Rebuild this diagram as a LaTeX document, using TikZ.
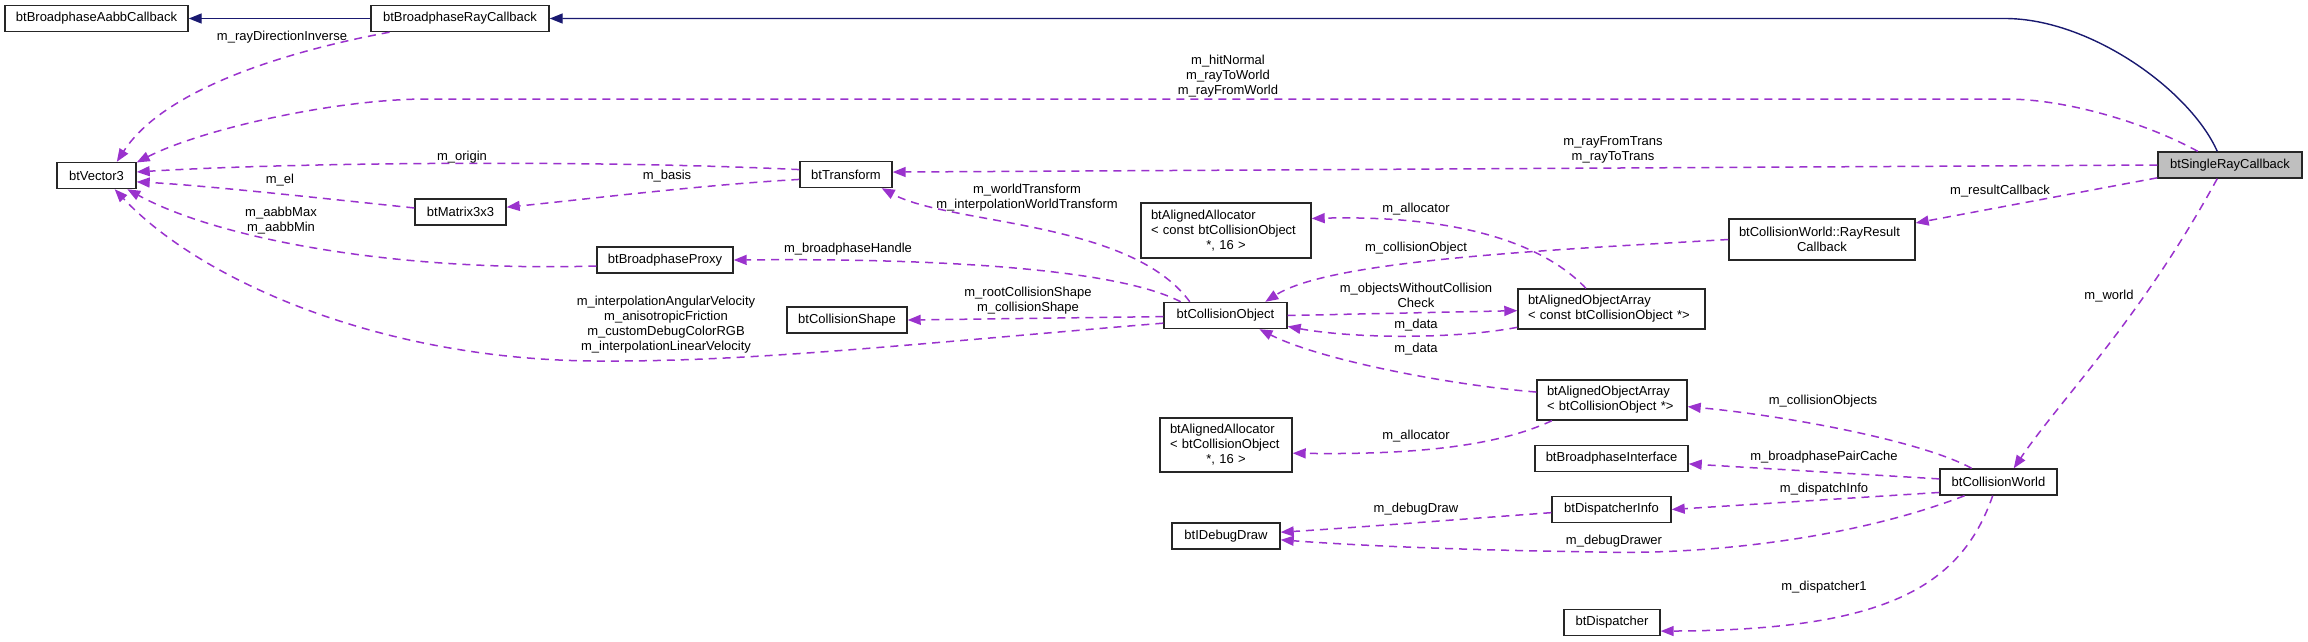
\documentclass[tikz,border=0pt]{standalone}
\usepackage{fontspec}
\setmainfont{Liberation Sans}
\usetikzlibrary{arrows.meta}
\definecolor{edgepurple}{HTML}{9A32CD}
\definecolor{edgenavy}{HTML}{191970}
\tikzset{
  cls/.style={draw=black!85, line width=1.4pt, fill=white, inner xsep=0pt, inner ysep=0pt,
    minimum height=26pt, font=\fontsize{13}{15}\selectfont},
  clsml/.style={cls, align=left, inner xsep=10pt},
  uses/.style={draw=edgepurple, line width=1.5pt, dash pattern=on 8pt off 6pt,
    -{Triangle[length=13pt,width=10pt,fill=edgepurple]}},
  inherits/.style={draw=edgenavy, line width=1.4pt, -{Triangle[length=13pt,width=10pt]}},
  lbl/.style={font=\fontsize{13}{15}\selectfont, align=center, inner sep=0pt}
}
\newcommand{\midline}[1]{\leavevmode\hfill #1\hfill\null}
\begin{document}
\begin{tikzpicture}[x=1pt, y=-1pt, >=latex]
                \useasboundingbox (0,0) rectangle (2308,641);

                % Classes
                \node[cls, minimum width=183pt] (aabbcb) at (96.5,18.5) {btBroadphaseAabbCallback};
                \node[cls, minimum width=178pt] (raycb) at (460,18.5) {btBroadphaseRayCallback};
                \node[cls, minimum width=79pt] (vec3) at (96.5,175.5) {btVector3};
                \node[cls, minimum width=92pt] (transform) at (846,174.5) {btTransform};
                \node[cls, minimum width=91pt] (mat33) at (460.5,212) {btMatrix3x3};
                \node[cls, minimum width=136pt] (proxy) at (665,260) {btBroadphaseProxy};
                \node[cls, minimum width=120pt] (shape) at (847,320) {btCollisionShape};
                \node[cls, minimum width=123pt] (colobj) at (1225.5,315.5) {btCollisionObject};
                \node[clsml, text width=150pt, minimum height=55pt] (allocc) at (1226,230.5)
                    {btAlignedAllocator\\< const btCollisionObject\\\midline{*, 16 >}};
                \node[clsml, text width=167pt, minimum height=40pt] (arrc) at (1611.5,309)
                    {btAlignedObjectArray\\< const btCollisionObject *>};
                \node[clsml, text width=166pt, minimum height=41pt] (rrcb) at (1822,239.5)
                    {btCollisionWorld::RayResult\\\midline{Callback}};
                \node[cls, fill=black!25, minimum width=144pt] (single) at (2230,165) {btSingleRayCallback};
                \node[clsml, text width=130pt, minimum height=40pt] (arr) at (1612,400)
                    {btAlignedObjectArray\\< btCollisionObject *>};
                \node[clsml, text width=112pt, minimum height=54pt] (alloc) at (1226,445)
                    {btAlignedAllocator\\< btCollisionObject\\\midline{*, 16 >}};
                \node[cls, minimum width=153pt] (bpi) at (1611.5,458.5) {btBroadphaseInterface};
                \node[cls, minimum width=119pt] (dinfo) at (1611.5,509.5) {btDispatcherInfo};
                \node[cls, minimum width=108pt] (ddraw) at (1226,536) {btIDebugDraw};
                \node[cls, minimum width=117pt] (world) at (1998.5,482) {btCollisionWorld};
                \node[cls, minimum width=96pt] (disp) at (1612,622.5) {btDispatcher};

                % Heranca
                \draw[inherits] (raycb) -- (aabbcb);
                \draw[inherits] (single.133) .. controls (2190,90) and (2090,18.5) .. (2005,18.5) -- (raycb.east);

                % Membros -> btVector3
                \draw[uses] (raycb.191) .. controls (320,45) and (170,80) .. (vec3.34);
                \draw[uses] (single.157) .. controls (2150,125) and (2070,99) .. (2005,99) -- (423,99)
                    .. controls (330,100) and (200,130) .. (vec3.18);
                \draw[uses] (transform.174) .. controls (600,160) and (300,162) .. (vec3.5);
                \draw[uses] (mat33.175) .. controls (320,198) and (200,185) .. (vec3.-9);
                \draw[uses] (proxy.185) .. controls (400,272) and (220,240) .. (vec3.-24);
                \draw[uses] (colobj.187) .. controls (900,345) and (750,362) .. (597,361)
                    .. controls (380,360) and (200,280) .. (vec3.-37);

                % Membros de btTransform e btCollisionObject
                \draw[uses] (transform.186) .. controls (700,185) and (580,200) .. (mat33.6);
                \draw[uses] (colobj.159) .. controls (1130,220) and (950,225) .. (transform.-21);
                \draw[uses] (colobj.163) .. controls (1120,270) and (950,258) .. (proxy.east);
                \draw[uses] (colobj.181) -- (shape.east);
                \draw[uses] (colobj.east) -- (arrc.181);
                \draw[uses] (arrc.191) .. controls (1450,340) and (1350,338) .. (colobj.-10);
                \draw[uses] (arr.174) .. controls (1450,385) and (1320,360) .. (colobj.-22);
                \draw[uses] (arrc.141) .. controls (1540,240) and (1450,215) .. (allocc.8);
                \draw[uses] (rrcb.west) .. controls (1550,250) and (1330,260) .. (colobj.19);

                % Membros de btSingleRayCallback
                \draw[uses] (single.west) -- (transform.3);
                \draw[uses] (single.190) -- (rrcb.10);
                \draw[uses] (single.-133) .. controls (2140,320) and (2060,400) .. (world.42);

                % Membros de btCollisionWorld
                \draw[uses] (world.153) .. controls (1920,440) and (1780,415) .. (arr.-5);
                \draw[uses] (arr.199) .. controls (1500,445) and (1420,455) .. (alloc.-7);
                \draw[uses] (world.177) -- (bpi.-4);
                \draw[uses] (world.190) -- (dinfo.east);
                \draw[uses] (dinfo.183) .. controls (1450,520) and (1350,528) .. (ddraw.4);
                \draw[uses] (world.202) .. controls (1850,540) and (1700,555) .. (1600,552)
                    .. controls (1450,550) and (1350,545) .. (ddraw.-4);
                \draw[uses] (world.247) .. controls (1960,590) and (1880,630) .. (disp.-10);

                % Rotulos das arestas
                \node[lbl] (l-raydir) at (282,37) {m\_rayDirectionInverse};
                \node[lbl] (l-hit) at (1228,76) {m\_hitNormal\\m\_rayToWorld\\m\_rayFromWorld};
                \node[lbl] (l-origin) at (462,157) {m\_origin};
                \node[lbl] (l-basis) at (667,176) {m\_basis};
                \node[lbl] (l-el) at (280,180) {m\_el};
                \node[lbl] (l-aabb) at (281,220.5) {m\_aabbMax\\m\_aabbMin};
                \node[lbl] (l-interp) at (666,325) {m\_interpolationAngularVelocity\\m\_anisotropicFriction\\m\_customDebugColorRGB\\m\_interpolationLinearVelocity};
                \node[lbl] (l-wtrans) at (1027,198) {m\_worldTransform\\m\_interpolationWorldTransform};
                \node[lbl] (l-handle) at (848,249) {m\_broadphaseHandle};
                \node[lbl] (l-shape) at (1028,300.5) {m\_rootCollisionShape\\m\_collisionShape};
                \node[lbl] (l-without) at (1416,295) {m\_objectsWithoutCollision\\Check};
                \node[lbl] (l-data1) at (1416,325) {m\_data};
                \node[lbl] (l-data2) at (1416,349) {m\_data};
                \node[lbl] (l-allocc) at (1416,209) {m\_allocator};
                \node[lbl] (l-colobj) at (1416,248) {m\_collisionObject};
                \node[lbl] (l-trans) at (1613,150) {m\_rayFromTrans\\m\_rayToTrans};
                \node[lbl] (l-result) at (2000,191) {m\_resultCallback};
                \node[lbl] (l-world) at (2109,296) {m\_world};
                \node[lbl] (l-colobjs) at (1823,401) {m\_collisionObjects};
                \node[lbl] (l-alloc) at (1416,436) {m\_allocator};
                \node[lbl] (l-pair) at (1824,457) {m\_broadphasePairCache};
                \node[lbl] (l-dinfo) at (1824,489) {m\_dispatchInfo};
                \node[lbl] (l-ddraw) at (1416,509) {m\_debugDraw};
                \node[lbl] (l-drawer) at (1614,541) {m\_debugDrawer};
                \node[lbl] (l-disp) at (1824,587) {m\_dispatcher1};

            \end{tikzpicture}
\end{document}
